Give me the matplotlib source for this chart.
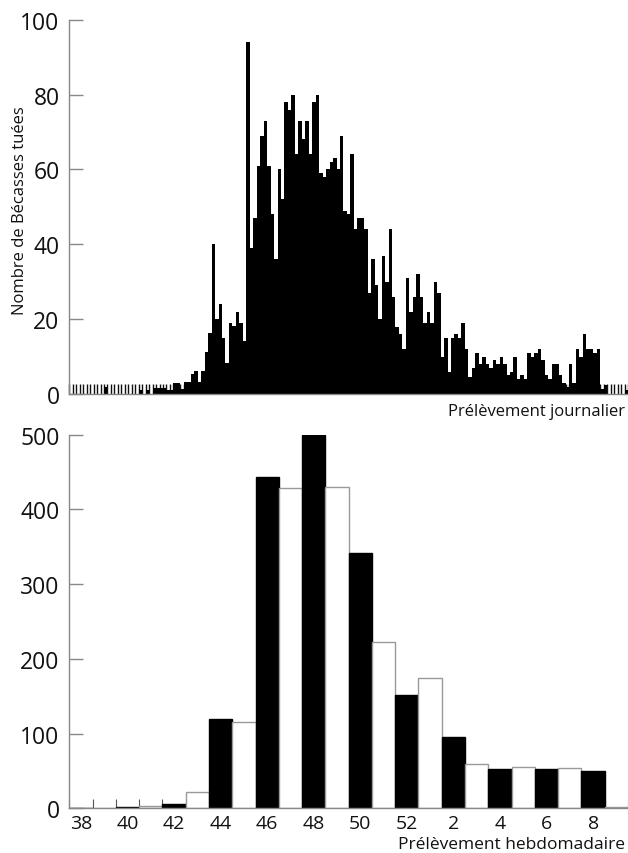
import matplotlib
matplotlib.use('Agg')
import matplotlib.pyplot as plt
import numpy as np

plt.rcParams['font.family'] = ['Open Sans', 'DejaVu Sans']

# daily harvest (one value per day, from mid week 38 to week 9)
daily = [0, 0, 0, 0, 0, 0, 0, 0, 0, 0,
         2, 0, 0, 0, 0, 0, 0, 0, 0, 0,
         1.2, 0, 1.2, 0, 1.5, 1.5, 1.5, 1.5, 1, 1,
         3, 3, 1.3, 3.3, 3.3, 5.3, 6.2,
         3.3, 6.2, 11.3, 16.2, 40, 20, 24,
         15, 8.3, 19, 18.3, 22, 19, 14.2,
         94, 39, 47, 61, 69, 73, 61,
         48, 36, 60, 52, 78, 76, 80,
         64, 73, 68, 73, 64, 78, 80,
         59, 58, 60, 62, 63, 60, 69,
         49, 48, 64, 44, 47, 47, 44,
         27, 36, 29, 20, 37, 30, 44,
         26, 18, 16, 12, 31, 22, 26,
         32, 26, 19, 22, 19, 30, 27,
         10, 15, 6, 15, 16, 15, 19,
         12, 4.5, 7, 11, 8, 10, 8,
         7, 9, 8, 10, 8, 5, 6,
         10, 4, 5, 4, 11, 10, 11,
         12, 9, 5, 4, 8, 8, 5,
         3, 2, 8, 3, 12, 10, 16,
         12, 12, 11, 12, 1.3, 2.4, 0,
         0, 0, 0, 0, 1]

# weekly harvest
weeks = ['38', '39', '40', '41', '42', '43', '44', '45', '46', '47', '48', '49',
         '50', '51', '52', '1', '2', '3', '4', '5', '6', '7', '8', '9']
weekly = [1, 1, 2, 3, 6, 22, 120, 115, 443, 429, 500, 430,
          342, 223, 151, 175, 96, 59, 53, 55, 52, 54, 50, 2]

W, H = 628, 854
fig = plt.figure(figsize=(W / 100, H / 100), dpi=100)

def style_axes(ax):
    for s in ['top', 'right']:
        ax.spines[s].set_visible(False)
    for s in ['left', 'bottom']:
        ax.spines[s].set_color('#888888')
        ax.spines[s].set_linewidth(1)
    ax.set_axisbelow(True)
    ax.tick_params(axis='y', direction='in', length=10, width=1, color='#888888',
                   labelsize=16.5, pad=7, labelcolor='#111111')

# Daily subplot
ax1 = fig.add_axes([69.3 / W, 1 - 395 / H, 558.7 / W, (395 - 20.7) / H])
ax1.bar(np.arange(len(daily)), daily, width=1, align='edge', color='black', linewidth=0)
ax1.set_xlim(0, len(daily))
ax1.set_ylim(0, 100)
ax1.set_yticks([0, 20, 40, 60, 80, 100])
ax1.set_xticks([])
ax1.set_xticks(np.arange(len(daily) + 1), minor=True)
ax1.tick_params(axis='x', which='minor', direction='in', length=7.2, width=1.0, color='#111111')
style_axes(ax1)

fig.text(20 / W, 1 - 211 / H, 'Nombre de Bécasses tuées', rotation=90,
         ha='center', va='center', fontsize=12, color='#111111')
fig.text(625 / W, 1 - 412 / H, 'Prélèvement journalier', ha='right', va='center',
         fontsize=12, color='#111111')

# Weekly subplot
ax2 = fig.add_axes([69.3 / W, 1 - 809.3 / H, 558.7 / W, (809.3 - 435.7) / H])
colors = ['black' if int(w) % 2 == 0 else 'white' for w in weeks]
edges = ['black' if int(w) % 2 == 0 else '#999999' for w in weeks]
ax2.bar(np.arange(len(weeks)), weekly, width=1, align='edge', color=colors,
        edgecolor=edges, linewidth=1)
ax2.set_xlim(0, len(weeks))
ax2.set_ylim(0, 500)
ax2.set_yticks([0, 100, 200, 300, 400, 500])
ax2.set_xticks(np.arange(0, len(weeks), 2) + 0.5, labels=weeks[::2])
ax2.set_xticks(np.arange(len(weeks) + 1), minor=True)
ax2.tick_params(axis='x', which='major', length=0, labelsize=14, pad=4, labelcolor='#111111')
ax2.tick_params(axis='x', which='minor', direction='in', length=6.5, width=0.8, color='#555555')
style_axes(ax2)

fig.text(625 / W, 1 - 845 / H, 'Prélèvement hebdomadaire', ha='right', va='center',
         fontsize=12.5, color='#111111')

fig.savefig('out.png', dpi=100)
